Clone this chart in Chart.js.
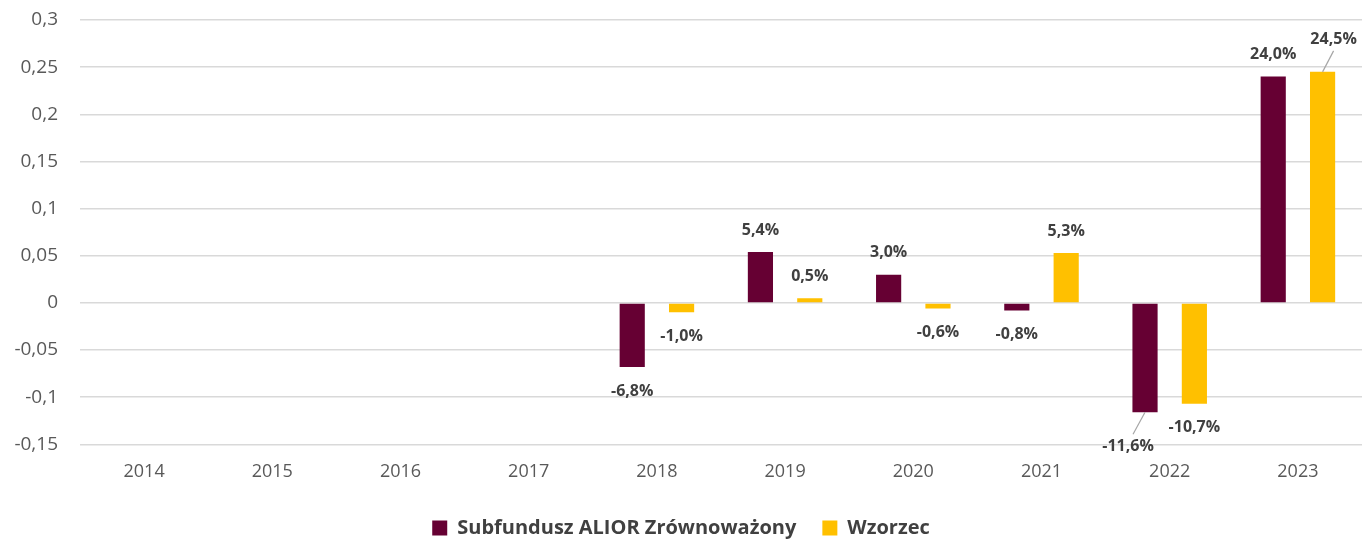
<!DOCTYPE html>
<html>
<head>
<meta charset="utf-8">
<script src="https://cdn.jsdelivr.net/npm/chart.js@4"></script>
<style>
  body { margin: 0; background: #fff; }
  #wrap { width: 1367px; height: 540px; position: relative; }
</style>
</head>
<body>
<div id="wrap"><canvas id="chart"></canvas></div>
<script>
// chart data
var years = ['2014', '2015', '2016', '2017', '2018', '2019', '2020', '2021', '2022', '2023'];
var fundValues = [null, null, null, null, -0.068, 0.054, 0.030, -0.008, -0.116, 0.240];
var benchValues = [null, null, null, null, -0.010, 0.005, -0.006, 0.053, -0.107, 0.245];
var seriesNames = ['Subfundusz ALIOR Zrównoważony', 'Wzorzec'];

// labels that were dragged off the bar in the original, drawn with a leader line
var movedLabels = { '0-8': { dx: -17, dy: 10 }, '1-9': { dx: 11, dy: -10 } };

function fmtTick(v) {
    return String(Math.round(v * 100) / 100).replace('.', ',');
}

function fmtPct(v) {
    return (v * 100).toFixed(1).replace('.', ',') + '%';
}

// draws the value labels above / below each bar
var valueLabels = {
    id: 'valueLabels',
    afterDatasetsDraw: function (chart) {
        var ctx = chart.ctx;
        ctx.save();
        ctx.font = 'bold 16px "Open Sans"';
        ctx.fillStyle = '#404040';
        ctx.textAlign = 'center';
        ctx.textBaseline = 'middle';
        chart.data.datasets.forEach(function (ds, di) {
            var meta = chart.getDatasetMeta(di);
            meta.data.forEach(function (bar, i) {
                var v = ds.data[i];
                if (v === null) return;
                var off = v >= 0 ? -22 : 24;
                var x = bar.x;
                var y = bar.y + off;
                var moved = movedLabels[di + '-' + i];
                if (moved) {
                    x += moved.dx;
                    y += moved.dy;
                    ctx.strokeStyle = '#a6a6a6';
                    ctx.lineWidth = 1.2;
                    ctx.beginPath();
                    ctx.moveTo(bar.x, bar.y);
                    ctx.lineTo(x + (v >= 0 ? 0 : 5), y + (v >= 0 ? 11 : -12));
                    ctx.stroke();
                }
                ctx.fillText(fmtPct(v), x, y);
            });
        });
        ctx.restore();
    }
};

new Chart(document.getElementById('chart'), {
    type: 'bar',
    data: {
        labels: years,
        datasets: [{
            label: seriesNames[0],
            data: fundValues,
            backgroundColor: '#660033'
        }, {
            label: seriesNames[1],
            data: benchValues,
            backgroundColor: '#FFC000'
        }]
    },
    options: {
        responsive: true,
        maintainAspectRatio: false,
        animation: false,
        categoryPercentage: 0.77,
        barPercentage: 0.51,
        layout: { padding: { top: 20, right: 5, left: 0, bottom: -8 } },
        plugins: {
            tooltip: { enabled: false },
            legend: {
                position: 'bottom',
                labels: {
                    font: { family: 'Open Sans', size: 20, weight: 'bold' },
                    color: '#404040',
                    boxWidth: 15,
                    boxHeight: 15,
                    padding: 26
                }
            }
        },
        scales: {
            x: {
                grid: { display: false },
                border: { display: false },
                ticks: {
                    font: { family: 'Open Sans', size: 18 },
                    color: '#595959',
                    padding: 9
                }
            },
            y: {
                min: -0.15,
                max: 0.3,
                afterFit: function (s) {
                    s.width = 80;
                    s.paddingTop = 0;
                    s.paddingBottom = 0;
                },
                ticks: {
                    stepSize: 0.05,
                    font: { family: 'Open Sans', size: 19 },
                    color: '#595959',
                    padding: 22,
                    callback: function (v) { return fmtTick(v); }
                },
                grid: { color: '#d9d9d9', lineWidth: 1.5, drawTicks: false },
                border: { display: false }
            }
        }
    },
    plugins: [valueLabels]
});
</script>
</body>
</html>
